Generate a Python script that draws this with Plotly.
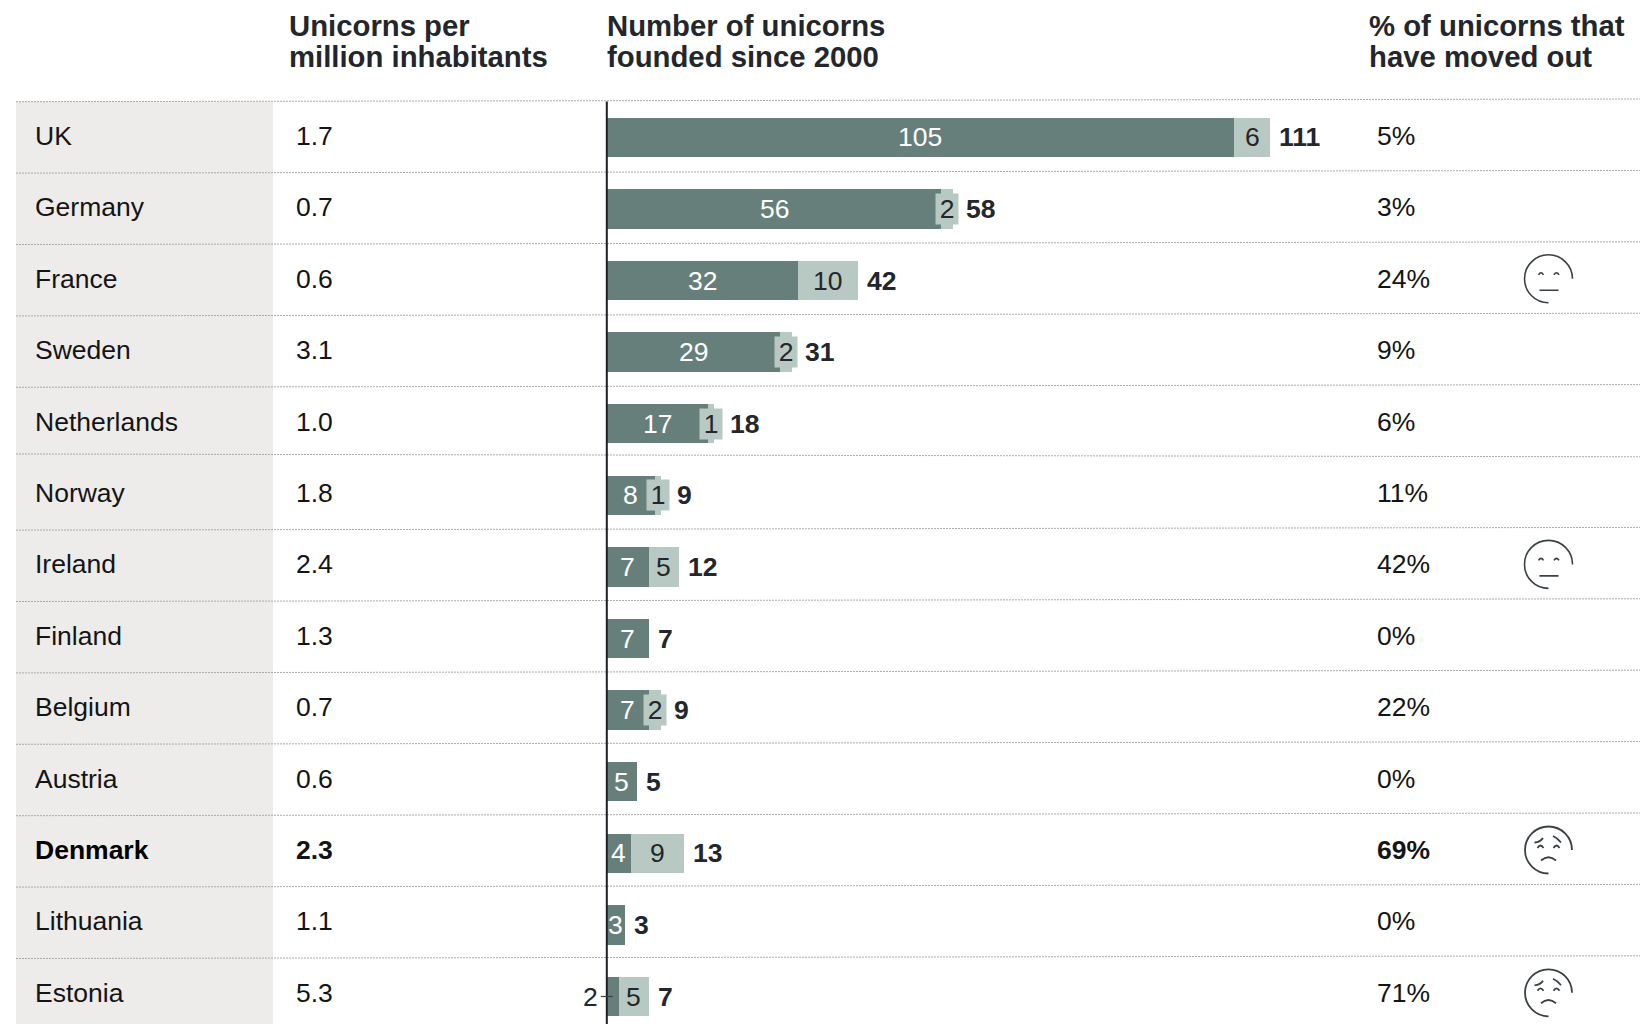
import plotly.graph_objects as go

# Unicorn table data, one entry per country
countries = ["UK", "Germany", "France", "Sweden", "Netherlands", "Norway", "Ireland",
             "Finland", "Belgium", "Austria", "Denmark", "Lithuania", "Estonia"]
per_million = ["1.7", "0.7", "0.6", "3.1", "1.0", "1.8", "2.4", "1.3", "0.7", "0.6", "2.3", "1.1", "5.3"]
stayed = [105, 56, 32, 29, 17, 8, 7, 7, 7, 5, 4, 3, 2]
moved = [6, 2, 10, 2, 1, 1, 5, 0, 2, 0, 9, 0, 5]
totals = [111, 58, 42, 31, 18, 9, 12, 7, 9, 5, 13, 3, 7]
moved_pct = [5, 3, 24, 9, 6, 11, 42, 0, 22, 0, 69, 0, 71]
highlight = "Denmark"
neutral_rows = ["France", "Ireland"]
sad_rows = ["Denmark", "Estonia"]
header_lines = [("Unicorns per", "million inhabitants"),
                ("Number of unicorns", "founded since 2000"),
                ("% of unicorns that", "have moved out")]

# Page geometry in pixels
W, H = 1640, 1024
AXIS_X, PX_PER_UNICORN = 606.8, 5.975
BAR_Y0, BAR_STEP, BAR_H = 137.3, 71.6, 39.5
ROW_Y0, ROW_STEP = 136.0, 71.4
BLOCK_L, BLOCK_R, BLOCK_TOP = 16, 273, 101.5
NAME_X, RATE_X, PCT_X, FACE_X = 33, 293.8, 1375.3, 1548.5
HEAD_XS = [286.8, 604.8, 1367]
HEAD_YS = [25.5, 56.5]

DARK, LIGHT = "#667f7b", "#b8c8c3"
INK, HEAD_INK, FACE_INK = "#141414", "#23262b", "#3a4145"
FONT = "Liberation Sans"
SIZE, HEAD_SIZE = 26.5, 29.3
BOX_W, BOX_H = 22, 30


def row_at(px):
    return (px - ROW_Y0) / ROW_STEP


def px(x):
    return x / W


fig = go.Figure()
fig.add_bar(y=countries, x=stayed, orientation="h", marker=dict(color=DARK, line_width=0),
            width=BAR_H / BAR_STEP, hoverinfo="skip")
fig.add_bar(y=countries, x=moved, orientation="h", marker=dict(color=LIGHT, line_width=0),
            width=BAR_H / BAR_STEP, hoverinfo="skip")
# Table rows sit on their own slightly tighter vertical scale
fig.add_scatter(x=[0] * len(countries), y=list(range(len(countries))), yaxis="y2", mode="none",
                showlegend=False, hoverinfo="skip")

shapes = [dict(type="rect", xref="paper", yref="paper", x0=px(BLOCK_L), x1=px(BLOCK_R),
               y0=0, y1=1 - BLOCK_TOP / H, fillcolor="#edecea", line_width=0, layer="below")]

# Dotted row rules, each running very slightly off horizontal
for i in range(13):
    left, right = 101.7 + ROW_STEP * i, 99.0 + ROW_STEP * i
    if i == 5:
        left, right = 454.0, 456.8
    shapes.append(dict(type="line", xref="paper", yref="y2", x0=px(BLOCK_L), x1=1,
                       y0=row_at(left), y1=row_at(right), layer="above",
                       line=dict(color="#aaaaaa", width=1, dash="2px,1px")))

# Vertical baseline of the bars, drawn from the first rule downwards
shapes.append(dict(type="line", xref="x", yref="y2", x0=0, x1=0, y0=row_at(BLOCK_TOP), y1=13,
                   line=dict(color="#1c2024", width=2)))


def face_shape(row, path, width):
    return dict(type="path", xref="paper", yref="y2", xsizemode="pixel", ysizemode="pixel",
                xanchor=px(FACE_X), yanchor=row, path=path, line=dict(color=FACE_INK, width=width),
                fillcolor="rgba(0,0,0,0)")


def head_arc(r):
    # three quarters of a circle, open at the lower right
    k = 0.5523 * r
    return (f"M {r},0 C {r},{k} {k},{r} 0,{r} C {-k},{r} {-r},{k} {-r},0 "
            f"C {-r},{-k} {-k},{-r} 0,{-r}")


NEUTRAL_FACE = (head_arc(24) +
                " M -10,4 Q -7.5,8 -5,4 M 5.5,4 Q 8,8 10.5,4 M -9,-11.5 L 10,-11.5")
SAD_FACE = (head_arc(23.5) +
            " M -11,2 Q -8,7 -5,2 M 5,2 Q 8,7 11,2"
            " M -14,7.5 Q -8,8 -5.5,12 M 4.5,14 Q 9,12 12.5,7.5"
            " M -7.5,-10.5 Q 0,-4 7.5,-10.5")
for name in neutral_rows:
    shapes.append(face_shape(countries.index(name), NEUTRAL_FACE, 1.6))
for name in sad_rows:
    shapes.append(face_shape(countries.index(name), SAD_FACE, 1.8))

notes = []


def note(text, x, y, xref="paper", yref="y2", color=INK, size=SIZE, bold=False, xanchor="left", **kw):
    notes.append(dict(text=f"<b>{text}</b>" if bold else text, x=x, y=y, xref=xref, yref=yref,
                      xanchor=xanchor, yanchor="middle", showarrow=False,
                      font=dict(family=FONT, size=size, color=color), **kw))


for xpos, lines in zip(HEAD_XS, header_lines):
    for line, ypos in zip(lines, HEAD_YS):
        note(line, px(xpos), 1 - ypos / H, yref="paper", color=HEAD_INK, size=HEAD_SIZE, bold=True)

for i, name in enumerate(countries):
    strong = name == highlight
    note(name, px(NAME_X), i, bold=strong, color="#000000" if strong else INK)
    note(per_million[i], px(RATE_X), i, bold=strong)
    note(f"{moved_pct[i]}%", px(PCT_X), i, bold=strong)

    # Segment values sit in the middle of their segment
    if stayed[i] > 2:
        note(stayed[i], stayed[i] / 2, name, xref="x", yref="y", color="#ffffff", xanchor="center")
    else:
        note(stayed[i], 0, name, xref="x", yref="y", color="#23262b", xanchor="right", xshift=-7)
    boxed = 0 < moved[i] <= 2
    if moved[i]:
        extra = dict(bgcolor=LIGHT, width=BOX_W, height=BOX_H, borderpad=0, align="center") if boxed else {}
        note(moved[i], stayed[i] + moved[i] / 2, name, xref="x", yref="y", color="#23262b",
             xanchor="center", **extra)
    # Totals clear the boxed value where one overhangs the bar
    if boxed:
        note(totals[i], stayed[i] + moved[i] / 2, name, xref="x", yref="y", color=HEAD_INK, bold=True,
             xshift=BOX_W / 2 + 6)
    else:
        note(totals[i], totals[i], name, xref="x", yref="y", color=HEAD_INK, bold=True, xshift=7)

# Leader for the value too narrow to label inside its bar
for i, v in enumerate(stayed):
    if v <= 2:
        shapes.append(dict(type="line", xref="x", yref="y", x0=-1, x1=v / 2, y0=countries[i], y1=countries[i],
                           line=dict(color="#3a4145", width=1.2)))

fig.update_layout(
    width=W, height=H, margin=dict(l=0, r=0, t=0, b=0), autosize=False,
    paper_bgcolor="#ffffff", plot_bgcolor="rgba(0,0,0,0)",
    barmode="stack", bargap=0, showlegend=False,
    xaxis=dict(range=[-AXIS_X / PX_PER_UNICORN, (W - AXIS_X) / PX_PER_UNICORN], visible=False, fixedrange=True),
    yaxis=dict(type="category", categoryorder="array", categoryarray=countries,
               range=[(H - BAR_Y0) / BAR_STEP, -BAR_Y0 / BAR_STEP], visible=False, fixedrange=True),
    yaxis2=dict(overlaying="y", range=[row_at(H), row_at(0)], visible=False, fixedrange=True),
    shapes=shapes, annotations=notes,
)
fig.write_html("out.html", config={"displayModeBar": False})
